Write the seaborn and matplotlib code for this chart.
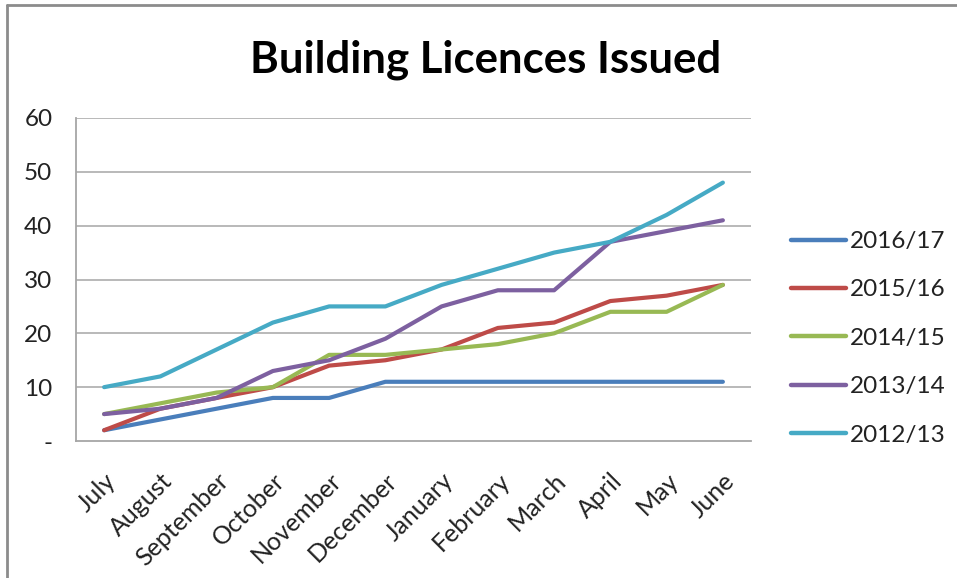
import matplotlib
matplotlib.use("Agg")
import matplotlib.pyplot as plt
from matplotlib.lines import Line2D
import seaborn as sns
import pandas as pd

months = ["July", "August", "September", "October", "November", "December",
          "January", "February", "March", "April", "May", "June"]
seasons = ["2016/17", "2015/16", "2014/15", "2013/14", "2012/13"]
v_2016_17 = [2, 4, 6, 8, 8, 11, 11, 11, 11, 11, 11, 11]
v_2015_16 = [2, 6, 8, 10, 14, 15, 17, 21, 22, 26, 27, 29]
v_2014_15 = [5, 7, 9, 10, 16, 16, 17, 18, 20, 24, 24, 29]
v_2013_14 = [5, 6, 8, 13, 15, 19, 25, 28, 28, 37, 39, 41]
v_2012_13 = [10, 12, 17, 22, 25, 25, 29, 32, 35, 37, 42, 48]
y_ticks = [0, 10, 20, 30, 40, 50, 60]
y_tick_labels = ["-", "10", "20", "30", "40", "50", "60"]

colors = ["#4A7EBB", "#BE4B48", "#98B954", "#7D60A0", "#46AAC5"]

series = [v_2016_17, v_2015_16, v_2014_15, v_2013_14, v_2012_13]
rows = []
for season, vals in zip(seasons, series):
    for i, v in enumerate(vals):
        rows.append({"month_idx": i, "month": months[i], "season": season, "licences": v})
df = pd.DataFrame(rows)

sns.set_theme(style="white")
plt.rcParams["font.family"] = ["Lato", "DejaVu Sans"]

fig = plt.figure(figsize=(9.57, 5.78), dpi=100)
ax = fig.add_axes([76 / 957, 1 - 441 / 578, 675 / 957, 323 / 578])

sns.lineplot(data=df, x="month_idx", y="licences", hue="season",
             hue_order=seasons, palette=colors, linewidth=3.0,
             legend=False, ax=ax, zorder=3)
for line in ax.lines:
    line.set_solid_capstyle("round")
    line.set_solid_joinstyle("round")

ax.set_xlim(-0.5, 11.5)
ax.set_ylim(0, 60)
ax.set_yticks(y_ticks)
ax.set_yticklabels(y_tick_labels)
ax.set_xticks(range(len(months)))
ax.set_xticklabels(months, rotation=45, ha="right", va="top",
                   rotation_mode="anchor")
ax.set_xlabel("")
ax.set_ylabel("")
ax.tick_params(axis="both", length=0, colors="#222222")
ax.tick_params(axis="y", pad=17, labelsize=17.5)
ax.tick_params(axis="x", pad=20, labelsize=18)

for y in y_ticks[1:]:
    ax.axhline(y, color="#a6a6a6", linewidth=1.1, zorder=1)
for side in ["top", "right"]:
    ax.spines[side].set_visible(False)
for side in ["left", "bottom"]:
    ax.spines[side].set_color("#a6a6a6")
    ax.spines[side].set_linewidth(1.3)

handles = [Line2D([0], [0], color=c, linewidth=3.2, solid_capstyle="round") for c in colors]
fig.legend(handles, seasons, loc="upper left",
           bbox_to_anchor=(791 / 957, 1 - 231 / 578), frameon=False,
           borderpad=0, borderaxespad=0,
           fontsize=17.5, handlelength=2.26, handletextpad=0.16,
           labelspacing=1.13, labelcolor="#222222")

fig.text(486 / 957, 1 - 60 / 578, "Building Licences Issued", ha="center",
         va="center", fontsize=31.5, fontweight="bold", color="black")

# outer chart frame (left and top edges)
fig.add_artist(Line2D([7 / 957, 7 / 957], [0, 1 - 5 / 578],
                      transform=fig.transFigure, color="#8c8c8c", linewidth=2))
fig.add_artist(Line2D([7 / 957, 1], [1 - 5 / 578, 1 - 5 / 578],
                      transform=fig.transFigure, color="#8c8c8c", linewidth=2))

fig.savefig("out.png", dpi=100, facecolor="white")
